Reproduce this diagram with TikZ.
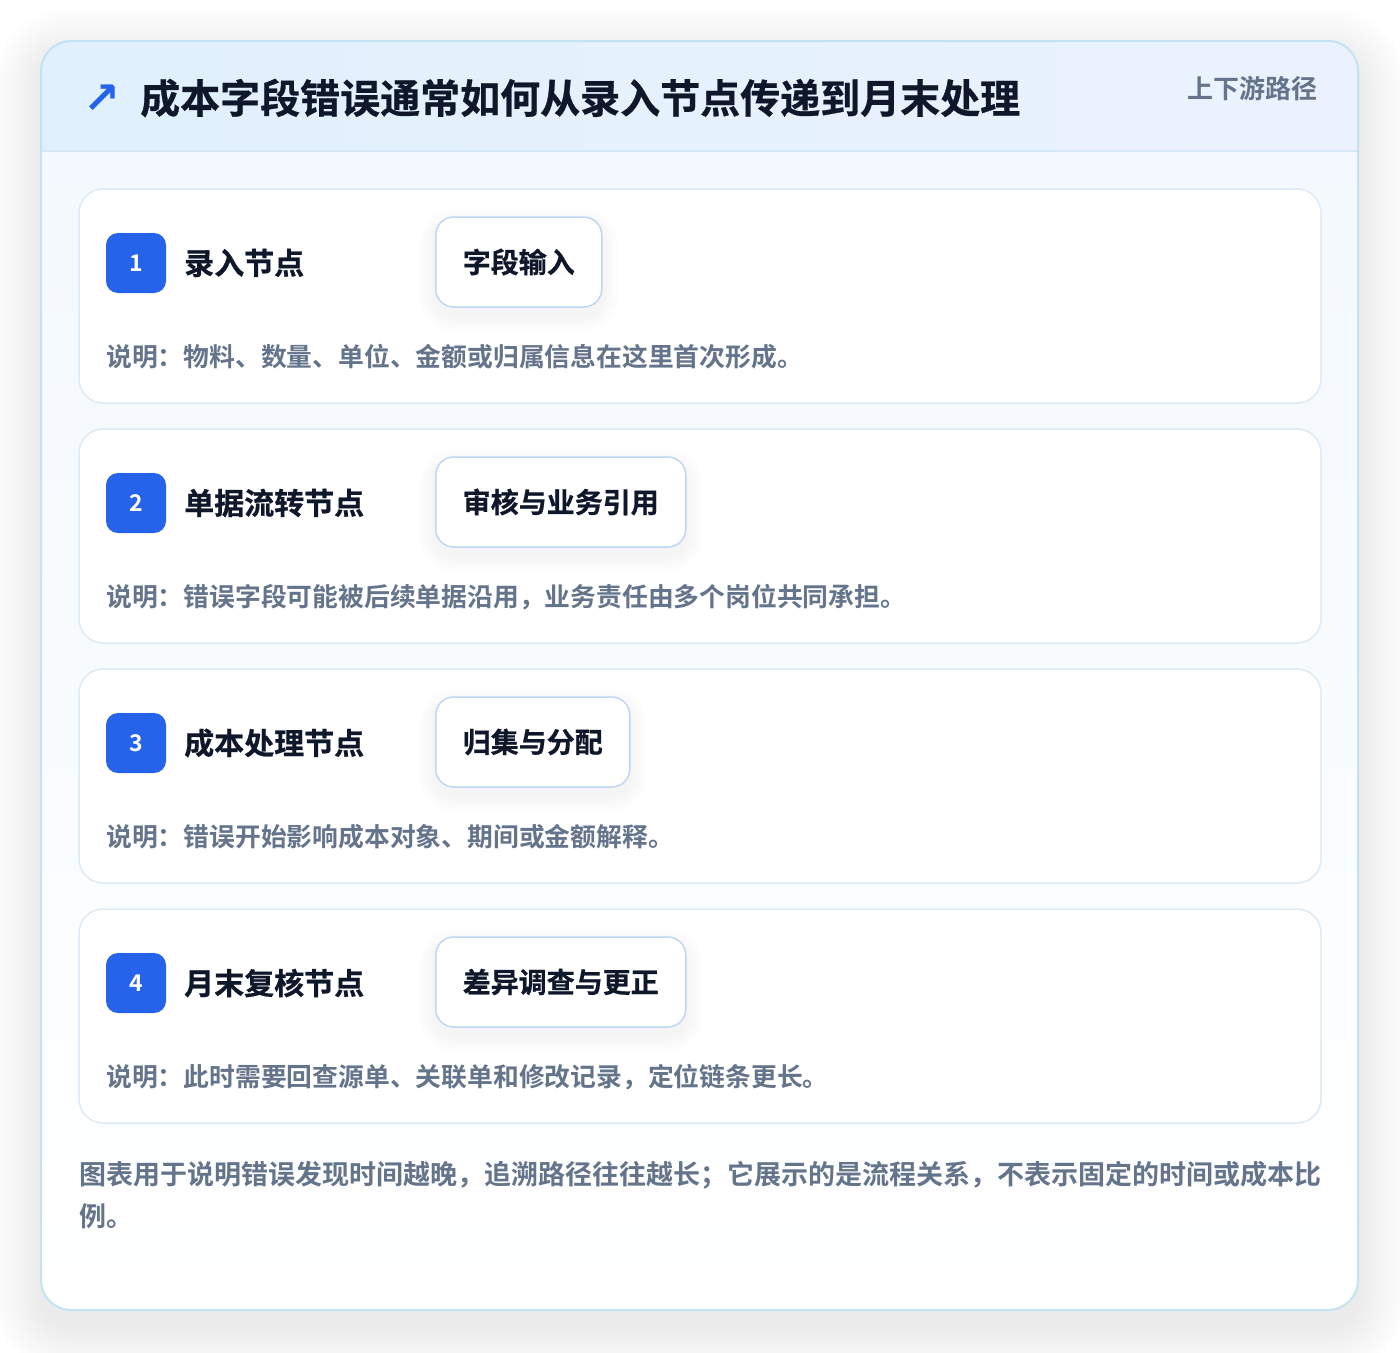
\documentclass[tikz,border=0pt]{standalone}
\usepackage{fontspec}
\setmainfont{Noto Sans CJK SC}[BoldFont=* Bold]
\newfontfamily\titlefont{Noto Sans CJK SC}[BoldFont=* Bold, BoldFeatures={FakeBold=0.7}]
\newfontfamily\symfont{DejaVu Sans}
\pgfdeclarelayer{cardlayer}
\pgfdeclarelayer{shadowlayer}
\pgfsetlayers{cardlayer,shadowlayer,main}
\definecolor{outerborder}{HTML}{C3E3F5}
\definecolor{headL}{HTML}{E0F0FD}
\definecolor{headR}{HTML}{EBF2FE}
\definecolor{headline}{HTML}{D6E8F8}
\definecolor{bodytop}{HTML}{F2F8FE}
\definecolor{cardborder}{HTML}{DCEBF8}
\definecolor{badgeblue}{HTML}{2563EB}
\definecolor{titlecol}{HTML}{0F172A}
\definecolor{graytext}{HTML}{64748B}
\definecolor{tagborder}{HTML}{BFD7F2}
\tikzset{
  cardbox/.style={draw=cardborder, line width=1.5pt, fill=white, rounded corners=24pt,
    minimum width=1242pt, minimum height=214pt, inner sep=0pt},
  badge/.style={fill=badgeblue, rounded corners=12pt, minimum width=60pt, minimum height=60pt,
    inner sep=0pt, text=white, font=\fontsize{23}{26}\selectfont\bfseries},
  steplabel/.style={anchor=west, inner sep=0pt, text=titlecol, font=\titlefont\fontsize{30}{36}\selectfont\bfseries},
  tagbox/.style={anchor=west, draw=tagborder, line width=1.5pt, fill=white, rounded corners=18pt,
    minimum height=90pt, inner xsep=27pt, inner ysep=0pt, text=titlecol,
    font=\titlefont\fontsize{28}{34}\selectfont\bfseries},
  desc/.style={anchor=west, inner sep=0pt, text=graytext, font=\fontsize{25.8}{30}\selectfont\bfseries},
}
\begin{document}
\begin{tikzpicture}[x=1pt,y=-1pt]
\begin{pgfonlayer}{cardlayer}
\useasboundingbox (0,0) rectangle (1400,1352);
\fill[white] (0,0) rectangle (1400,1352);
% soft shadow of the outer card
\foreach \i in {1,...,20}{
  \fill[black, fill opacity=0.0045, rounded corners=30pt+2.5*\i pt]
    (41-2.5*\i,41-2.5*\i+16) rectangle (1358+2.5*\i,1310+2.5*\i+16);
}
\shade[rounded corners=30pt, top color=bodytop, bottom color=white] (41,41) rectangle (1358,1310);
% header band
\begin{scope}
\clip[rounded corners=30pt] (41,41) rectangle (1358,1310);
\shade[left color=headL, right color=headR] (41,41) rectangle (1358,151);
\draw[headline, line width=1.5pt] (41,151) -- (1358,151);
\end{scope}
\draw[outerborder, line width=2pt, rounded corners=30pt] (41,41) rectangle (1358,1310);
\end{pgfonlayer}
% header texts
\node[inner sep=0pt, text=badgeblue, font=\symfont\bfseries\fontsize{44}{46}\selectfont] (icon) at (102,99) {↗};
\node[anchor=west, inner sep=0pt, text=titlecol, font=\titlefont\fontsize{40}{46}\selectfont\bfseries] (title) at (140,98) {成本字段错误通常如何从录入节点传递到月末处理};
\node[anchor=east, inner sep=0pt, text=graytext, font=\fontsize{26}{30}\selectfont\bfseries] (route) at (1318,89) {上下游路径};
% cards
\foreach \k/\lab/\tag/\dsc in {
  0/录入节点/字段输入/说明：物料、数量、单位、金额或归属信息在这里首次形成。,
  1/单据流转节点/审核与业务引用/说明：错误字段可能被后续单据沿用，业务责任由多个岗位共同承担。,
  2/成本处理节点/归集与分配/说明：错误开始影响成本对象、期间或金额解释。,
  3/月末复核节点/差异调查与更正/说明：此时需要回查源单、关联单和修改记录，定位链条更长。}{
  \pgfmathsetmacro{\yo}{240*\k}
  \pgfmathtruncatemacro{\num}{\k+1}
  \begin{pgfonlayer}{cardlayer}
  \node[cardbox] (card\num) at (700,296+\yo) {};
  \end{pgfonlayer}
  \node[badge] (badge\num) at (136,263+\yo) {\num};
  \node[steplabel] (label\num) at (184,263+\yo) {\lab};
  \node[tagbox] (tag\num) at (435,262+\yo) {\tag};
  \begin{pgfonlayer}{shadowlayer}
  \foreach \j in {1,...,10}{
    \fill[black, fill opacity=0.005, rounded corners=18pt+1.6*\j pt]
      ([xshift=-1.6*\j pt, yshift=1.6*\j pt-8pt]tag\num.north west) rectangle ([xshift=1.6*\j pt, yshift=-1.6*\j pt-8pt]tag\num.south east);
  }
  \end{pgfonlayer}
  \node[desc] (desc\num) at (106,357+\yo) {\dsc};
}
% footer
\node[anchor=north west, inner sep=0pt, align=left, text=graytext, font=\fontsize{27}{42}\selectfont\bfseries] (footer) at (79,1161) {图表用于说明错误发现时间越晚，追溯路径往往越长；它展示的是流程关系，不表示固定的时间或成本比\\例。};
\end{tikzpicture}
\end{document}
